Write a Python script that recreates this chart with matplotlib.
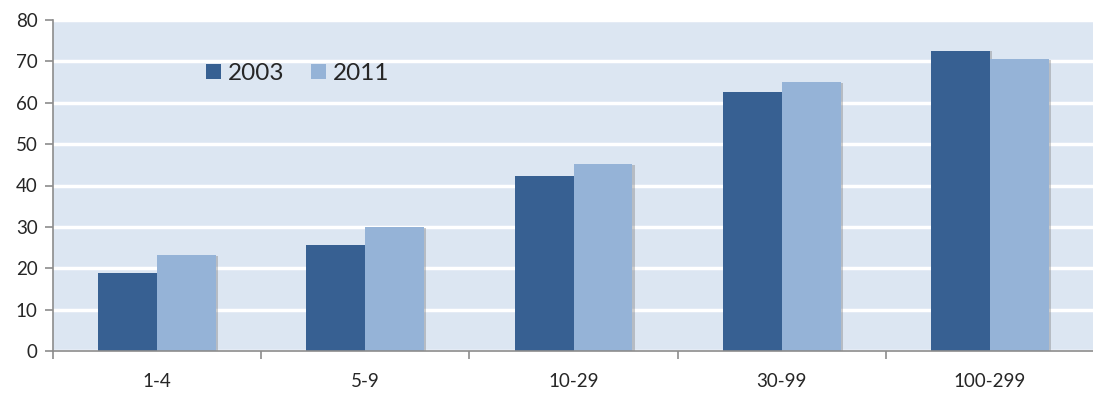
import matplotlib
matplotlib.use("Agg")
import matplotlib.pyplot as plt
import matplotlib.patheffects as pe
import numpy as np

plt.rcParams['font.family'] = ['Lato', 'DejaVu Sans']

# firm size classes and shares for the two survey years
categories = ['1-4', '5-9', '10-29', '30-99', '100-299']
values_2003 = [18.8, 25.5, 42.4, 62.5, 72.6]
values_2011 = [23.1, 29.9, 45.2, 64.9, 70.6]
series_labels = ['2003', '2011']

dark_blue = '#376092'
light_blue = '#95b3d7'
axis_grey = '#8c8c8c'
text_col = '#262626'

fig = plt.figure(figsize=(10.93, 3.94), dpi=100)
ax = fig.add_axes([53 / 1093, 43 / 394, 1041 / 1093, 331 / 394])
ax.set_facecolor('#dce6f2')

x = np.arange(len(categories))
w = 0.283
# soft drop shadow on the right side of each bar
shadow = [pe.SimplePatchShadow(offset=(1.5, -0.5), shadow_rgbFace='#6f6f6f', alpha=0.35), pe.Normal()]
b1 = ax.bar(x - w / 2, values_2003, w, color=dark_blue, label=series_labels[0], zorder=3)
b2 = ax.bar(x + w / 2, values_2011, w, color=light_blue, label=series_labels[1], zorder=3)
for bars in (b1, b2):
    for p in bars:
        p.set_path_effects(shadow)

ax.set_xlim(-0.5, len(categories) - 0.5)
ax.set_ylim(0, 80)
ax.set_yticks(range(0, 81, 10))
ax.yaxis.grid(True, color='white', linewidth=2.5, zorder=1)
ax.set_axisbelow(True)

# category boundaries carry the tick marks, labels sit at the centres
ax.set_xticks(np.arange(-0.5, len(categories)), labels=[])
ax.set_xticks(x, labels=categories, minor=True)
ax.tick_params(axis='x', which='major', length=6, width=1.2, color=axis_grey, direction='out')
ax.tick_params(axis='x', which='minor', length=0, pad=16, labelsize=13.5, labelcolor=text_col)
ax.tick_params(axis='y', length=6, width=1.2, color=axis_grey, pad=5, labelsize=13.5, labelcolor=text_col)

for side in ['top', 'right']:
    ax.spines[side].set_visible(False)
for side in ['left', 'bottom']:
    ax.spines[side].set_color(axis_grey)
    ax.spines[side].set_linewidth(1.2)
    ax.spines[side].set_zorder(4)

leg = ax.legend(loc='upper left', bbox_to_anchor=(0.147, 0.87), ncol=2, frameon=False,
                fontsize=17.5, handlelength=0.62, handleheight=0.62, handletextpad=0.28,
                columnspacing=1.1, borderaxespad=0, borderpad=0)
for t in leg.get_texts():
    t.set_color(text_col)
for h in leg.legend_handles:
    h.set_path_effects([])

fig.savefig('out.png', dpi=100)
